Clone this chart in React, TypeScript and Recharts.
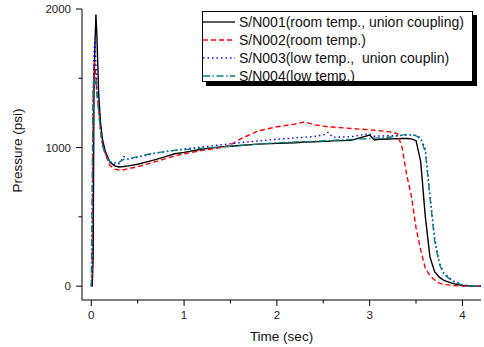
import React from "react";
import { LineChart, Line, XAxis, YAxis, Legend, Label } from "recharts";

const times = [0, 0.01, 0.02, 0.03, 0.04, 0.05, 0.06, 0.08, 0.1, 0.12, 0.15, 0.2, 0.25, 0.3, 0.35, 0.4, 0.5, 0.6, 0.7, 0.8, 0.9, 1.0, 1.2, 1.4, 1.5, 1.6, 1.8, 2.0, 2.2, 2.3, 2.4, 2.5, 2.55, 2.6, 2.8, 3.0, 3.05, 3.1, 3.2, 3.25, 3.3, 3.35, 3.4, 3.45, 3.5, 3.55, 3.6, 3.65, 3.7, 3.75, 3.8, 3.9, 4.0, 4.1, 4.2];

const sn001 = [0, 0, 200, 1500, 1750, 1960, 1820, 1380, 1180, 1060, 975, 895, 868, 860, 863, 868, 880, 897, 915, 935, 955, 965, 990, 1005, 1010, 1015, 1025, 1030, 1035, 1040, 1042, 1045, 1045, 1048, 1052, 1090, 1055, 1060, 1062, 1063, 1064, 1065, 1065, 1063, 1050, 900, 500, 210, 105, 65, 42, 18, 5, 0, 0];
const sn002 = [0, 100, 1300, 1620, 1600, 1500, 1400, 1270, 1120, 1030, 955, 872, 845, 838, 840, 848, 862, 880, 900, 920, 940, 955, 980, 1000, 1020, 1060, 1120, 1150, 1170, 1185, 1165, 1155, 1150, 1148, 1138, 1128, 1125, 1122, 1115, 1110, 1100, 1000, 800, 650, 420, 260, 130, 75, 45, 22, 12, 5, 0, 0, 0];
const sn003 = [0, 50, 1200, 1700, 1790, 1600, 1450, 1290, 1140, 1040, 965, 897, 880, 885, 935, 915, 930, 945, 960, 970, 980, 990, 1005, 1020, 1028, 1035, 1048, 1060, 1070, 1075, 1080, 1090, 1110, 1075, 1078, 1100, 1082, 1083, 1085, 1085, 1086, 1088, 1090, 1090, 1088, 1070, 990, 660, 350, 170, 95, 38, 10, 0, 0];
const sn004 = [0, 800, 1450, 1500, 1450, 1480, 1400, 1260, 1110, 1015, 952, 900, 890, 895, 915, 920, 935, 950, 962, 972, 980, 985, 995, 1005, 1010, 1015, 1025, 1035, 1040, 1043, 1045, 1048, 1050, 1052, 1058, 1065, 1068, 1070, 1075, 1078, 1082, 1090, 1095, 1092, 1085, 1060, 970, 640, 330, 160, 85, 32, 8, 0, 0];

const seriesNames = [
  "S/N001(room temp., union coupling)",
  "S/N002(room temp.)",
  "S/N003(low temp.,  union couplin)",
  "S/N004(low temp.)",
];
const seriesKeys = ["sn001", "sn002", "sn003", "sn004"];
const seriesColors = ["#000000", "#ff0000", "#0000ff", "#008080"];
const seriesDash = ["", "5 3", "1.5 3", "7 2.5 1.5 2.5"];

const xTicks = [0, 0.5, 1, 1.5, 2, 2.5, 3, 3.5, 4];
const yTicks = [0, 500, 1000, 1500, 2000];
const xDomain = [-0.1, 4.2];
const yDomain = [-100, 2000];

const data = times.map((t, i) => ({
  t,
  sn001: sn001[i],
  sn002: sn002[i],
  sn003: sn003[i],
  sn004: sn004[i],
}));

const FONT = "'Liberation Sans', Arial, Helvetica, sans-serif";

const BottomTick = (props: any) => {
  const { x, y, payload } = props;
  const major = Number.isInteger(payload.value);
  return (
    <g>
      <line x1={x} x2={x} y1={y} y2={y + (major ? 6 : 3.5)} stroke="#000" strokeWidth={1} />
      {major && (
        <text x={x} y={y + 11} dy="0.71em" textAnchor="middle" fontSize={11.5} fontFamily={FONT} fill="#222">
          {payload.value}
        </text>
      )}
    </g>
  );
};

const TopTick = (props: any) => {
  const { x, y, payload } = props;
  const major = Number.isInteger(payload.value);
  return <line x1={x} x2={x} y1={y} y2={y + (major ? 4 : 2.5)} stroke="#000" strokeWidth={1} />;
};

const LeftTick = (props: any) => {
  const { x, y, payload } = props;
  const major = payload.value % 1000 === 0;
  return (
    <g>
      <line x1={x} x2={x - (major ? 6 : 3.5)} y1={y} y2={y} stroke="#000" strokeWidth={1} />
      {major && (
        <text x={x - 11} y={y} dy="0.35em" textAnchor="end" fontSize={11.5} fontFamily={FONT} fill="#222">
          {payload.value}
        </text>
      )}
    </g>
  );
};

const RightTick = (props: any) => {
  const { x, y, payload } = props;
  const major = payload.value % 1000 === 0;
  return <line x1={x} x2={x - (major ? 4 : 2.5)} y1={y} y2={y} stroke="#000" strokeWidth={1} />;
};

const LegendBox = () => (
  <div
    style={{
      boxSizing: "border-box",
      width: 271,
      height: 71,
      border: "1px solid #000",
      background: "#fff",
      boxShadow: "4px 4px 0 #000",
      paddingTop: 1,
      fontFamily: FONT,
      fontSize: 14,
      color: "#111",
    }}
  >
    {seriesNames.map((name, i) => (
      <div key={name} style={{ display: "flex", alignItems: "center", height: 18, whiteSpace: "pre" }}>
        <svg width={32} height={18} style={{ display: "block", flex: "none" }}>
          <line x1={0} x2={32} y1={9} y2={9} stroke={seriesColors[i]} strokeWidth={1.3} strokeDasharray={seriesDash[i] || undefined} />
        </svg>
        <span style={{ marginLeft: 4, lineHeight: "18px" }}>{name}</span>
      </div>
    ))}
  </div>
);

export default function App() {
  return (
    <div style={{ position: "absolute", left: 0, top: 0, width: 484, height: 347, background: "#fff" }}>
      <LineChart width={484} height={347} data={data} margin={{ top: 9, right: 3, left: 0, bottom: 0 }}>
        <XAxis
          dataKey="t"
          type="number"
          domain={xDomain}
          allowDataOverflow
          ticks={xTicks}
          interval={0}
          height={47}
          tickSize={0}
          tickMargin={0}
          tickLine={false}
          tick={<BottomTick />}
          axisLine={{ stroke: "#000", strokeWidth: 1 }}
        >
          <Label value="Time (sec)" position="insideBottom" offset={6} style={{ fontFamily: FONT, fontSize: 13.5, fill: "#111" }} />
        </XAxis>
        <XAxis
          xAxisId="top"
          orientation="top"
          dataKey="t"
          type="number"
          domain={xDomain}
          allowDataOverflow
          ticks={xTicks}
          interval={0}
          height={0}
          tickSize={0}
          tickMargin={0}
          tickLine={false}
          tick={<TopTick />}
          axisLine={{ stroke: "#000", strokeWidth: 1 }}
        />
        <YAxis
          type="number"
          domain={yDomain}
          allowDataOverflow
          ticks={yTicks}
          interval={0}
          width={82}
          tickSize={0}
          tickMargin={0}
          tickLine={false}
          tick={<LeftTick />}
          axisLine={{ stroke: "#000", strokeWidth: 1 }}
        >
          <Label
            value="Pressure (psi)"
            angle={-90}
            position="insideLeft"
            offset={0}
            dx={17}
            dy={-4}
            style={{ fontFamily: FONT, fontSize: 13.5, fill: "#111", textAnchor: "middle" }}
          />
        </YAxis>
        <YAxis
          yAxisId="right"
          orientation="right"
          type="number"
          domain={yDomain}
          allowDataOverflow
          ticks={yTicks}
          interval={0}
          width={0}
          tickSize={0}
          tickMargin={0}
          tickLine={false}
          tick={<RightTick />}
          axisLine={{ stroke: "#000", strokeWidth: 1 }}
        />
        {seriesKeys.map((k, i) => (
          <Line
            key={k}
            dataKey={k}
            name={seriesNames[i]}
            type="linear"
            stroke={seriesColors[i]}
            strokeWidth={1.4}
            strokeDasharray={seriesDash[i] || undefined}
            dot={false}
            activeDot={false}
            isAnimationActive={false}
          />
        ))}
        <Legend
          layout="vertical"
          align="center"
          verticalAlign="middle"
          content={<LegendBox />}
          wrapperStyle={{ position: "absolute", left: 202, top: 11, width: 271, height: 71 }}
        />
      </LineChart>
    </div>
  );
}
